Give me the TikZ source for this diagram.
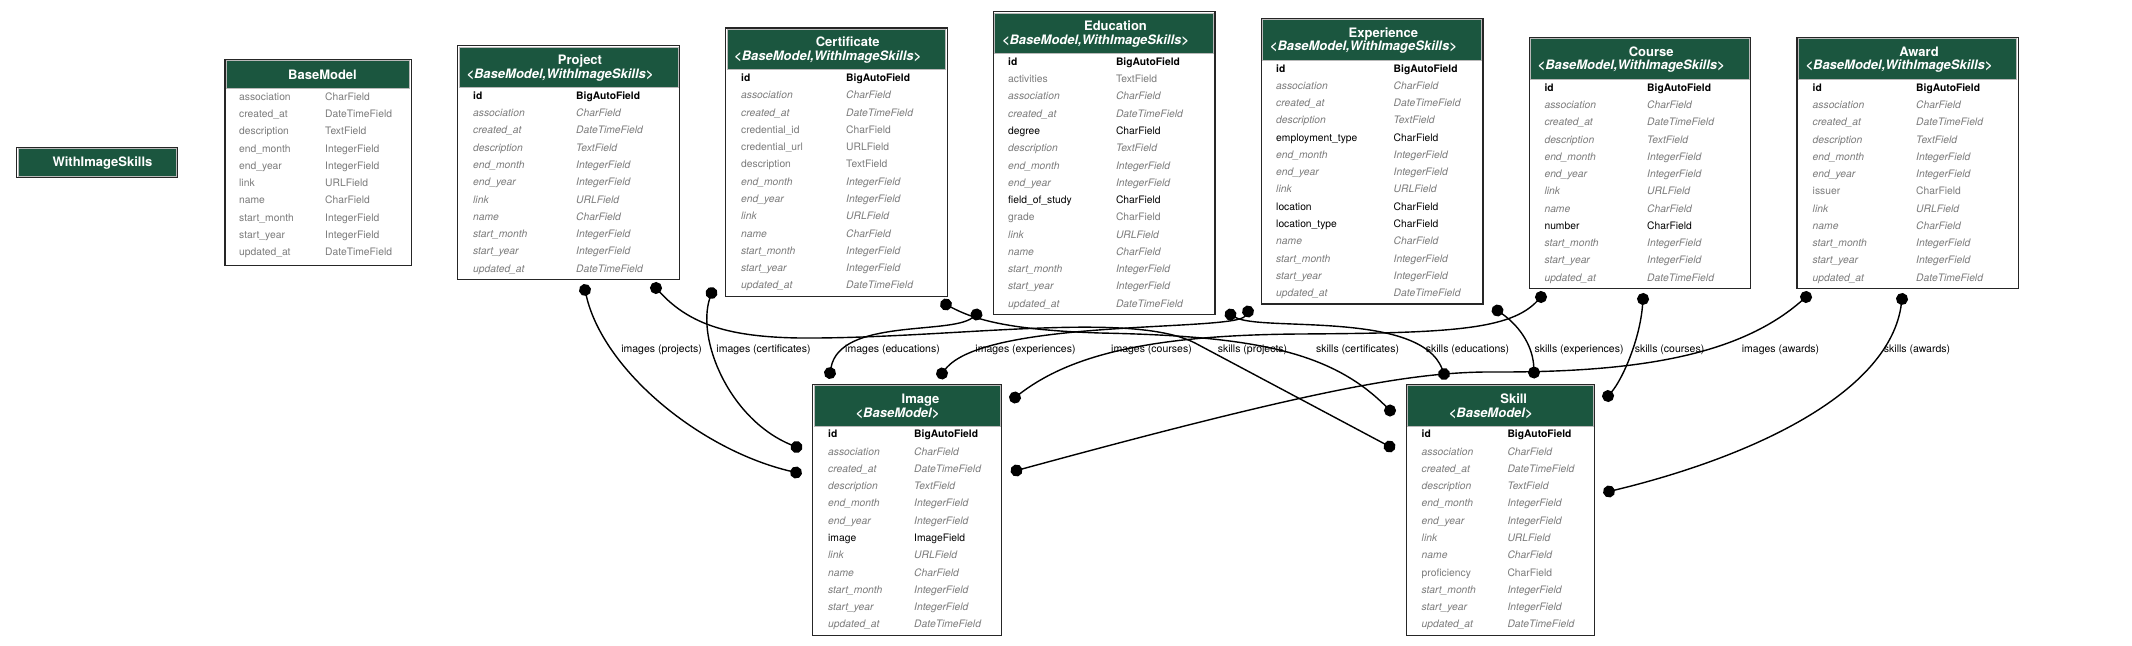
\documentclass[tikz,border=0pt]{standalone}
\usepackage{fontspec}
\setmainfont{TeX Gyre Heros}
\usetikzlibrary{arrows.meta}
\definecolor{djgreen}{HTML}{1B563F}
\definecolor{blankgrey}{HTML}{7B7B7B}
\tikzstyle{relation} = [line width=1.4pt, {Circle[length=12pt]}-{Circle[length=12pt]}, shorten <=-6pt, shorten >=-6pt]

\begin{document}
\begin{tikzpicture}[x=1pt, y=-1pt]
    \tikzstyle{every node}=[inner sep=0pt]
    \tikzstyle{modelframe} = [draw=black!85, line width=1.3pt, fill=white, anchor=north west]
    \tikzstyle{headcell} = [fill=djgreen, draw=gray!55, line width=0.7pt, anchor=north west]
    \tikzstyle{headtitle} = [font=\fontsize{13}{15}\selectfont\bfseries, text=white, anchor=base]
    \tikzstyle{headsub} = [headtitle, font=\fontsize{13}{15}\selectfont\bfseries\itshape]
    \tikzstyle{keyrow} = [anchor=base west, font=\fontsize{10.3}{12}\selectfont\bfseries, text=black]
    \tikzstyle{inhrow} = [anchor=base west, font=\fontsize{10.3}{12}\selectfont\itshape, text=blankgrey]
    \tikzstyle{blankrow} = [anchor=base west, font=\fontsize{10.3}{12}\selectfont, text=blankgrey]
    \tikzstyle{reqrow} = [anchor=base west, font=\fontsize{10.3}{12}\selectfont, text=black]
    \tikzstyle{rellabel} = [font=\fontsize{10.5}{12}\selectfont, anchor=base]

    \path[fill=white] (0,0) rectangle (2132,645);
    \useasboundingbox (0,0) rectangle (2132,645);

    % abstract models
    \node[modelframe, minimum width=161pt, minimum height=30.5pt] (withimageskills) at (16,146.5) {};
    \node[headcell, minimum width=158pt, minimum height=27.5pt] (withimageskillsHead) at (17.5,148) {};
    \node[headtitle] (withimageskillsTitle) at (102.5,166) {WithImageSkills};

    \node[modelframe, minimum width=186.3pt, minimum height=206pt] (basemodel) at (224.3,58.5) {};
    \node[headcell, minimum width=183.3pt, minimum height=27.8pt] (basemodelHead) at (225.8,60) {};
    \node[headtitle] (basemodelTitle) at (322.5,79.5) {BaseModel};
    \foreach \fn/\ft/\fs [count=\i from 0] in {association/CharField/blankrow, created\_at/DateTimeField/blankrow, description/TextField/blankrow, end\_month/IntegerField/blankrow, end\_year/IntegerField/blankrow, link/URLField/blankrow, name/CharField/blankrow, start\_month/IntegerField/blankrow, start\_year/IntegerField/blankrow, updated\_at/DateTimeField/blankrow}{
        \pgfmathsetmacro\rowy{100.2+17.27*\i}
        \node[\fs] (basemodel-n\i) at (239,\rowy) {\fn};
        \node[\fs] (basemodel-t\i) at (325,\rowy) {\ft};
    }

    % Project
    \node[modelframe, minimum width=222pt, minimum height=234pt] (project) at (457,45) {};
    \node[headcell, minimum width=219pt, minimum height=40.5pt] (projectHead) at (458.5,46.5) {};
    \node[headtitle] (projectTitle) at (580,64.5) {Project};
    \node[headsub] (projectSub) at (560,78) {<BaseModel,WithImageSkills>};
    \foreach \fn/\ft/\fs [count=\i from 0] in {id/BigAutoField/keyrow, association/CharField/inhrow, created\_at/DateTimeField/inhrow, description/TextField/inhrow, end\_month/IntegerField/inhrow, end\_year/IntegerField/inhrow, link/URLField/inhrow, name/CharField/inhrow, start\_month/IntegerField/inhrow, start\_year/IntegerField/inhrow, updated\_at/DateTimeField/inhrow}{
        \pgfmathsetmacro\rowy{99.4+17.27*\i}
        \node[\fs] (project-n\i) at (473,\rowy) {\fn};
        \node[\fs] (project-t\i) at (576,\rowy) {\ft};
    }

    % Certificate
    \node[modelframe, minimum width=221.5pt, minimum height=268.3pt] (certificate) at (725,27.2) {};
    \node[headcell, minimum width=218.5pt, minimum height=40.5pt] (certificateHead) at (726.5,28.7) {};
    \node[headtitle] (certificateTitle) at (847.7,46.7) {Certificate};
    \node[headsub] (certificateSub) at (827.7,60.2) {<BaseModel,WithImageSkills>};
    \foreach \fn/\ft/\fs [count=\i from 0] in {id/BigAutoField/keyrow, association/CharField/inhrow, created\_at/DateTimeField/inhrow, credential\_id/CharField/blankrow, credential\_url/URLField/blankrow, description/TextField/blankrow, end\_month/IntegerField/inhrow, end\_year/IntegerField/inhrow, link/URLField/inhrow, name/CharField/inhrow, start\_month/IntegerField/inhrow, start\_year/IntegerField/inhrow, updated\_at/DateTimeField/inhrow}{
        \pgfmathsetmacro\rowy{81.6+17.27*\i}
        \node[\fs] (certificate-n\i) at (741,\rowy) {\fn};
        \node[\fs] (certificate-t\i) at (846,\rowy) {\ft};
    }

    % Education
    \node[modelframe, minimum width=221.5pt, minimum height=303pt] (education) at (992.8,11) {};
    \node[headcell, minimum width=218.5pt, minimum height=40.5pt] (educationHead) at (994.3,12.5) {};
    \node[headtitle] (educationTitle) at (1115.5,30.5) {Education};
    \node[headsub] (educationSub) at (1095.5,44) {<BaseModel,WithImageSkills>};
    \foreach \fn/\ft/\fs [count=\i from 0] in {id/BigAutoField/keyrow, activities/TextField/blankrow, association/CharField/inhrow, created\_at/DateTimeField/inhrow, degree/CharField/reqrow, description/TextField/inhrow, end\_month/IntegerField/inhrow, end\_year/IntegerField/inhrow, field\_of\_study/CharField/reqrow, grade/CharField/blankrow, link/URLField/inhrow, name/CharField/inhrow, start\_month/IntegerField/inhrow, start\_year/IntegerField/inhrow, updated\_at/DateTimeField/inhrow}{
        \pgfmathsetmacro\rowy{65.4+17.27*\i}
        \node[\fs] (education-n\i) at (1008,\rowy) {\fn};
        \node[\fs] (education-t\i) at (1115.8,\rowy) {\ft};
    }

    % Experience
    \node[modelframe, minimum width=221.8pt, minimum height=285.6pt] (experience) at (1260.5,17.7) {};
    \node[headcell, minimum width=218.8pt, minimum height=40.5pt] (experienceHead) at (1262,19.2) {};
    \node[headtitle] (experienceTitle) at (1383.4,37.2) {Experience};
    \node[headsub] (experienceSub) at (1363.4,50.7) {<BaseModel,WithImageSkills>};
    \foreach \fn/\ft/\fs [count=\i from 0] in {id/BigAutoField/keyrow, association/CharField/inhrow, created\_at/DateTimeField/inhrow, description/TextField/inhrow, employment\_type/CharField/reqrow, end\_month/IntegerField/inhrow, end\_year/IntegerField/inhrow, link/URLField/inhrow, location/CharField/reqrow, location\_type/CharField/reqrow, name/CharField/inhrow, start\_month/IntegerField/inhrow, start\_year/IntegerField/inhrow, updated\_at/DateTimeField/inhrow}{
        \pgfmathsetmacro\rowy{72.1+17.27*\i}
        \node[\fs] (experience-n\i) at (1276,\rowy) {\fn};
        \node[\fs] (experience-t\i) at (1393.5,\rowy) {\ft};
    }

    % Course
    \node[modelframe, minimum width=221.5pt, minimum height=251pt] (course) at (1528.5,36.8) {};
    \node[headcell, minimum width=218.5pt, minimum height=40.5pt] (courseHead) at (1530,38.3) {};
    \node[headtitle] (courseTitle) at (1651.2,56.3) {Course};
    \node[headsub] (courseSub) at (1631.2,69.8) {<BaseModel,WithImageSkills>};
    \foreach \fn/\ft/\fs [count=\i from 0] in {id/BigAutoField/keyrow, association/CharField/inhrow, created\_at/DateTimeField/inhrow, description/TextField/inhrow, end\_month/IntegerField/inhrow, end\_year/IntegerField/inhrow, link/URLField/inhrow, name/CharField/inhrow, number/CharField/reqrow, start\_month/IntegerField/inhrow, start\_year/IntegerField/inhrow, updated\_at/DateTimeField/inhrow}{
        \pgfmathsetmacro\rowy{91.2+17.27*\i}
        \node[\fs] (course-n\i) at (1544.3,\rowy) {\fn};
        \node[\fs] (course-t\i) at (1647,\rowy) {\ft};
    }

    % Award
    \node[modelframe, minimum width=221.5pt, minimum height=251pt] (award) at (1796.3,36.8) {};
    \node[headcell, minimum width=218.5pt, minimum height=40.5pt] (awardHead) at (1797.8,38.3) {};
    \node[headtitle] (awardTitle) at (1919,56.3) {Award};
    \node[headsub] (awardSub) at (1899,69.8) {<BaseModel,WithImageSkills>};
    \foreach \fn/\ft/\fs [count=\i from 0] in {id/BigAutoField/keyrow, association/CharField/inhrow, created\_at/DateTimeField/inhrow, description/TextField/inhrow, end\_month/IntegerField/inhrow, end\_year/IntegerField/inhrow, issuer/CharField/blankrow, link/URLField/inhrow, name/CharField/inhrow, start\_month/IntegerField/inhrow, start\_year/IntegerField/inhrow, updated\_at/DateTimeField/inhrow}{
        \pgfmathsetmacro\rowy{91.2+17.27*\i}
        \node[\fs] (award-n\i) at (1812.5,\rowy) {\fn};
        \node[\fs] (award-t\i) at (1916,\rowy) {\ft};
    }

    % Image
    \node[modelframe, minimum width=189pt, minimum height=251pt] (image) at (812,383.5) {};
    \node[headcell, minimum width=186pt, minimum height=40.5pt] (imageHead) at (813.5,385) {};
    \node[headtitle] (imageTitle) at (920.5,403) {Image};
    \node[headsub] (imageSub) at (897.5,417) {<BaseModel>};
    \foreach \fn/\ft/\fs [count=\i from 0] in {id/BigAutoField/keyrow, association/CharField/inhrow, created\_at/DateTimeField/inhrow, description/TextField/inhrow, end\_month/IntegerField/inhrow, end\_year/IntegerField/inhrow, image/ImageField/reqrow, link/URLField/inhrow, name/CharField/inhrow, start\_month/IntegerField/inhrow, start\_year/IntegerField/inhrow, updated\_at/DateTimeField/inhrow}{
        \pgfmathsetmacro\rowy{437.9+17.27*\i}
        \node[\fs] (image-n\i) at (828,\rowy) {\fn};
        \node[\fs] (image-t\i) at (914,\rowy) {\ft};
    }

    % Skill
    \node[modelframe, minimum width=188.5pt, minimum height=251pt] (skill) at (1405.5,383.5) {};
    \node[headcell, minimum width=185.5pt, minimum height=40.5pt] (skillHead) at (1407,385) {};
    \node[headtitle] (skillTitle) at (1513.7,403) {Skill};
    \node[headsub] (skillSub) at (1490.7,417) {<BaseModel>};
    \foreach \fn/\ft/\fs [count=\i from 0] in {id/BigAutoField/keyrow, association/CharField/inhrow, created\_at/DateTimeField/inhrow, description/TextField/inhrow, end\_month/IntegerField/inhrow, end\_year/IntegerField/inhrow, link/URLField/inhrow, name/CharField/inhrow, proficiency/CharField/blankrow, start\_month/IntegerField/inhrow, start\_year/IntegerField/inhrow, updated\_at/DateTimeField/inhrow}{
        \pgfmathsetmacro\rowy{437.9+17.27*\i}
        \node[\fs] (skill-n\i) at (1421.5,\rowy) {\fn};
        \node[\fs] (skill-t\i) at (1507.3,\rowy) {\ft};
    }

    % relation end points
    \coordinate (pjImg) at (585,290);
    \coordinate (pjSk) at (656,288);
    \coordinate (ctImg) at (711.5,293);
    \coordinate (ctSk) at (946,304.5);
    \coordinate (edImg) at (976.5,314.5);
    \coordinate (edSk) at (1230.5,314.5);
    \coordinate (exImg) at (1248,311.5);
    \coordinate (exSk) at (1497.5,310.5);
    \coordinate (coImg) at (1541,297);
    \coordinate (coSk) at (1643,299);
    \coordinate (awImg) at (1806,297);
    \coordinate (awSk) at (1902,299);
    \coordinate (imgPj) at (796,472.5);
    \coordinate (imgCt) at (796.5,447);
    \coordinate (imgEd) at (830,373);
    \coordinate (imgEx) at (942,373.5);
    \coordinate (imgCo) at (1015,397.5);
    \coordinate (imgAw) at (1016.5,470.5);
    \coordinate (skPj) at (1389.5,446.5);
    \coordinate (skCt) at (1390,410.5);
    \coordinate (skEd) at (1444,374);
    \coordinate (skEx) at (1534,372.5);
    \coordinate (skCo) at (1608,396);
    \coordinate (skAw) at (1609,491.5);

    % many-to-many relations
    \draw[relation] (pjImg) .. controls (603,370) and (700,450) .. (imgPj);
    \draw[relation] (ctImg) .. controls (696,340) and (730,420) .. (imgCt);
    \draw[relation] (pjSk) .. controls (690,325) and (730,337) .. (800,338) .. controls (950,339) and (1130,310) .. (1195,343) -- (skPj);
    \draw[relation] (ctSk) .. controls (975,320) and (1010,330) .. (1100,333) .. controls (1250,336) and (1330,350) .. (skCt);
    \draw[relation] (edImg) .. controls (950,335) and (840,318) .. (imgEd);
    \draw[relation] (edSk) .. controls (1260,332) and (1420,310) .. (skEd);
    \draw[relation] (exImg) .. controls (1235,332) and (985,318) .. (imgEx);
    \draw[relation] (coImg) .. controls (1510,330) and (1450,333) .. (1300,334) .. controls (1150,335) and (1070,355) .. (imgCo);
    \draw[relation] (exSk) .. controls (1522,328) and (1533,348) .. (skEx);
    \draw[relation] (coSk) .. controls (1640,340) and (1622,380) .. (skCo);
    \draw[relation] (awImg) .. controls (1740,355) and (1640,372) .. (1500,372) .. controls (1420,371) and (1330,385) .. (imgAw);
    \draw[relation] (awSk) .. controls (1890,390) and (1760,455) .. (skAw);

    % labels
    \node[rellabel] (lblPjImg) at (661.5,352.5) {images (projects)};
    \node[rellabel] (lblCtImg) at (763.5,352.5) {images (certificates)};
    \node[rellabel] (lblEdImg) at (892.5,352.5) {images (educations)};
    \node[rellabel] (lblExImg) at (1025.5,352.5) {images (experiences)};
    \node[rellabel] (lblCoImg) at (1151.5,352.5) {images (courses)};
    \node[rellabel] (lblPjSk) at (1252.5,352.5) {skills (projects)};
    \node[rellabel] (lblCtSk) at (1357.5,352.5) {skills (certificates)};
    \node[rellabel] (lblEdSk) at (1467.5,352.5) {skills (educations)};
    \node[rellabel] (lblExSk) at (1579,352.5) {skills (experiences)};
    \node[rellabel] (lblCoSk) at (1669.5,352.5) {skills (courses)};
    \node[rellabel] (lblAwImg) at (1780.5,352.5) {images (awards)};
    \node[rellabel] (lblAwSk) at (1917,352.5) {skills (awards)};
\end{tikzpicture}
\end{document}
